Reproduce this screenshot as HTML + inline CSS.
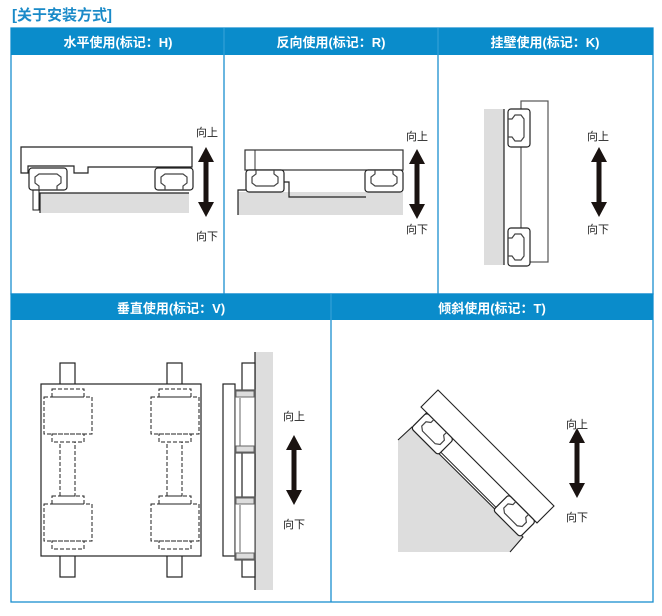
<!DOCTYPE html>
<html><head><meta charset="utf-8"><style>
body{margin:0;background:#fff;}
svg{display:block;}
text{font-family:"Liberation Sans","Noto Sans CJK SC",sans-serif;}
</style></head><body>
<svg width="662" height="616" viewBox="0 0 662 616" xmlns="http://www.w3.org/2000/svg">
<defs>
<g id="arr"><polygon points="0,-35 8,-20 2.5,-20 2.5,20 8,20 0,35 -8,20 -2.5,20 -2.5,-20 -8,-20" fill="#1a1311"/></g>
<g id="car" fill="none" stroke="#222" stroke-width="1.2">
<rect x="0" y="0" width="38" height="22" rx="3" fill="#fff"/>
<path d="M10,22 L10,18 L6,15 L6,9 L10,6 L28,6 L32,9 L32,15 L28,18 L28,22" stroke="#444"/>
</g>
</defs>
<text x="12" y="20" font-size="15" font-weight="bold" fill="#1a8ac8">[关于安装方式]</text>
<!-- frames -->
<g stroke="#1a8fd0" stroke-width="1.3" fill="none">
<rect x="11" y="28" width="642" height="266"/>
<line x1="224" y1="28" x2="224" y2="294"/><line x1="438" y1="28" x2="438" y2="294"/>
<rect x="11" y="294" width="642" height="308"/>
<line x1="331" y1="294" x2="331" y2="602"/>
</g>
<rect x="11" y="28" width="642" height="27" fill="#0a8ccb"/>
<rect x="11" y="294" width="642" height="26" fill="#0a8ccb"/>
<line x1="224" y1="28" x2="224" y2="55" stroke="#3aa3d8"/><line x1="438" y1="28" x2="438" y2="55" stroke="#3aa3d8"/>
<line x1="331" y1="294" x2="331" y2="320" stroke="#3aa3d8"/>
<g fill="#fff" font-size="13" font-weight="bold" text-anchor="middle">
<text x="118" y="47">水平使用(标记：H)</text>
<text x="331" y="47">反向使用(标记：R)</text>
<text x="545" y="47">挂壁使用(标记：K)</text>
<text x="171" y="313">垂直使用(标记：V)</text>
<text x="492" y="313">倾斜使用(标记：T)</text>
</g>
<g font-size="11" fill="#222">
<text x="196" y="136">向上</text><text x="196" y="240">向下</text>
<text x="406" y="140">向上</text><text x="406" y="233">向下</text>
<text x="587" y="140">向上</text><text x="587" y="233">向下</text>
<text x="283" y="420">向上</text><text x="283" y="528">向下</text>
<text x="566" y="428">向上</text><text x="566" y="521">向下</text>
</g>
<use href="#arr" x="206" y="182"/>
<use href="#arr" x="417" y="184"/>
<use href="#arr" x="599" y="182"/>
<use href="#arr" x="294" y="470"/>
<use href="#arr" x="577" y="463"/>

<!-- H -->
<rect x="40" y="193" width="149" height="20" fill="#ddd"/>
<path d="M40,213 L40,193 L189,193" fill="none" stroke="#222" stroke-width="1.2"/>
<rect x="33" y="190" width="6" height="20" fill="#fff" stroke="#222" stroke-width="1"/>
<path d="M21,147 L192,147 L192,167 L88,167 L88,173 L74,173 L74,166 L28,166 L28,173 L21,173 Z" fill="#fff" stroke="#222" stroke-width="1.2"/>
<use href="#car" x="29" y="168"/>
<use href="#car" x="155" y="168"/>
<!-- R -->
<rect x="238" y="192" width="165" height="23" fill="#ddd"/>
<path d="M238,215 L238,190 L281,190 L281,182 L289,182 L289,197 L366,197" fill="none" stroke="#222" stroke-width="1.2"/>
<rect x="245" y="150" width="158" height="20" fill="#fff" stroke="#333" stroke-width="1.2"/>
<line x1="255" y1="150" x2="255" y2="176" stroke="#333"/>
<g transform="translate(284,192) scale(-1,-1)"><use href="#car"/></g>
<g transform="translate(403,192) scale(-1,-1)"><use href="#car"/></g>
<!-- K -->
<rect x="484" y="109" width="20" height="156" fill="#ddd"/>
<line x1="504" y1="109" x2="504" y2="265" stroke="#222" stroke-width="1.2"/>
<rect x="521" y="101" width="27" height="161" fill="#fff" stroke="#555" stroke-width="1.2"/>
<g transform="translate(530,109) rotate(90)"><use href="#car"/></g>
<g transform="translate(530,228) rotate(90)"><use href="#car"/></g>
<!-- V front -->
<g fill="#fff" stroke="#222" stroke-width="1.2">
<rect x="60" y="363" width="15" height="214"/><rect x="167" y="363" width="15" height="214"/>
<rect x="41" y="384" width="160" height="172"/>
</g>
<g fill="none" stroke="#222" stroke-width="1" stroke-dasharray="4,2">
<g id="vd">
<rect x="44" y="397" width="48" height="37"/><rect x="52" y="389" width="32" height="8"/><rect x="52" y="434" width="32" height="8"/>
<rect x="60" y="442" width="15" height="54"/>
<rect x="52" y="496" width="32" height="8"/><rect x="44" y="504" width="48" height="37"/><rect x="52" y="541" width="32" height="8"/>
</g>
<use href="#vd" x="107"/>
</g>
<!-- V side -->
<rect x="255" y="352" width="18" height="238" fill="#ddd"/>
<line x1="255" y1="352" x2="255" y2="590" stroke="#222" stroke-width="1.2"/>
<g fill="#fff" stroke="#222" stroke-width="1.2">
<rect x="242" y="363" width="13" height="214"/>
<rect x="223" y="384" width="12" height="172"/>
<rect x="235" y="390" width="20" height="63" stroke="#555"/>
<rect x="235" y="497" width="20" height="63" stroke="#555"/>
</g>
<g stroke="#666" fill="none"><line x1="240" y1="398" x2="240" y2="446"/><line x1="240" y1="505" x2="240" y2="552"/><rect x="236" y="391" width="18" height="6" fill="#ddd"/><rect x="236" y="446" width="18" height="6" fill="#ddd"/><rect x="236" y="498" width="18" height="6" fill="#ddd"/><rect x="236" y="553" width="18" height="6" fill="#ddd"/></g>
<!-- T -->
<polygon points="398,440 412,427 523,537 510,552 398,552" fill="#ddd"/>
<polyline points="398,440 412,427 523,537 510,552" fill="none" stroke="#222" stroke-width="1.1"/>
<g transform="translate(438,390) rotate(45)">
<rect x="0" y="0" width="164" height="24" fill="#fff" stroke="#222" stroke-width="1.1"/>
<rect x="8" y="24" width="150" height="18" fill="#fff" stroke="#222" stroke-width="1"/>
<g transform="translate(46,46) scale(-1,-1)"><use href="#car"/></g>
<g transform="translate(162,46) scale(-1,-1)"><use href="#car"/></g>
</g>
</svg>
</body></html>
